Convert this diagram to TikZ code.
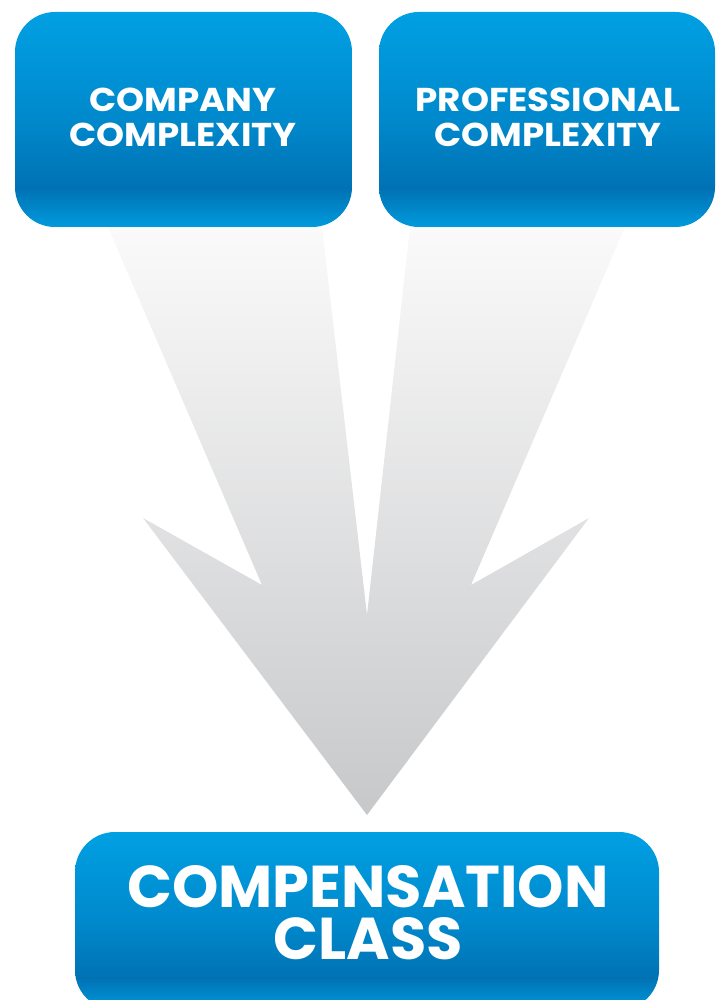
\documentclass[tikz,border=0pt]{standalone}
\usepackage{fontspec}
\setmainfont{Poppins}
\newfontfamily\widefont[FakeStretch=1.08]{Poppins}
\definecolor{btop}{HTML}{00A0E3}
\definecolor{bmid}{HTML}{0089CC}
\definecolor{bdark}{HTML}{0072B4}
\definecolor{bbot}{HTML}{009ADC}
\definecolor{atop}{HTML}{FAFAFA}
\definecolor{abot}{HTML}{C7C8CA}
\pgfdeclareverticalshading{boxshade}{100bp}{color(0bp)=(bbot); color(25bp)=(bbot); color(34bp)=(bdark); color(50bp)=(bmid); color(75bp)=(btop); color(100bp)=(btop)}
\begin{document}
\begin{tikzpicture}[x=1pt,y=-1pt,
  box/.style={shade, shading=boxshade, rounded corners=40, inner sep=0, draw=none},
  toplabel/.style={text=white, align=center, inner sep=0, font=\widefont\bfseries\fontsize{33}{35}\selectfont},
  biglabel/.style={text=white, align=center, inner sep=0, font=\bfseries\fontsize{59}{52}\selectfont}]
\useasboundingbox (0,0) rectangle (721,1000);
\clip (0,0) rectangle (721,1000);
% converging arrow
\shade[top color=atop, bottom color=abot]
  (108,227) -- (322,227) -- (367,615) -- (410,227) -- (625,227) -- (471,585)
  -- (589,518) -- (367,815) -- (143,518) -- (262,585) -- cycle;
% boxes
\node[box, minimum width=337, minimum height=215] (company) at (183.5,119.5) {};
\node[box, minimum width=336, minimum height=215] (professional) at (547,119.5) {};
\node[box, minimum width=584, minimum height=178] (compensation) at (367,921) {};
% labels
\node[toplabel] (companylabel) at (183,117) {COMPANY\\COMPLEXITY};
\node[toplabel] (professionallabel) at (548,117) {PROFESSIONAL\\COMPLEXITY};
\node[biglabel] (compensationlabel) at (368,913) {COMPENSATION\\CLASS};
\end{tikzpicture}
\end{document}
